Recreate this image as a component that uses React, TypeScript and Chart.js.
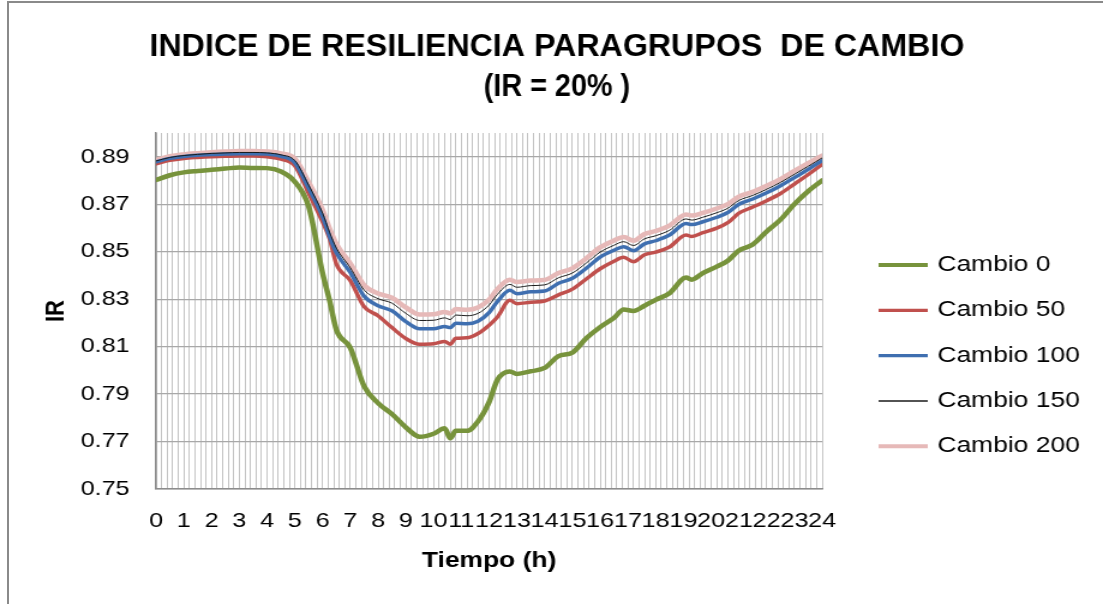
import React, { useEffect, useRef } from 'react';
import { Chart, registerables } from 'chart.js';

Chart.register(...registerables);

// ---------- data ----------
const TIME = [
  0, 0.5, 1, 1.5, 2, 2.5, 3, 3.5, 4, 4.5, 5, 5.5, 6, 6.25, 6.5, 7, 7.5, 8, 8.5, 9, 9.5, 10,
  10.4, 10.6, 10.8, 11.2, 11.6, 12, 12.3, 12.75, 13, 13.5, 14, 14.5, 15, 15.5, 16, 16.5, 16.85,
  17.2, 17.6, 18, 18.5, 19.1, 19.3, 19.7, 20.2, 20.6, 21, 21.5, 22, 22.5, 23, 23.5, 24,
];

const CAMBIO_0 = [
  0.8802, 0.8822, 0.8834, 0.884, 0.8845, 0.885, 0.8855, 0.8853, 0.8852, 0.8838, 0.8795, 0.869,
  0.841, 0.8295, 0.817, 0.8095, 0.7932, 0.7862, 0.7816, 0.776, 0.772, 0.7733, 0.7756, 0.7714,
  0.7745, 0.7745, 0.7785, 0.7866, 0.796, 0.7995, 0.7985, 0.7996, 0.801, 0.806, 0.8075, 0.8135,
  0.8182, 0.8221, 0.8256, 0.825, 0.8272, 0.8297, 0.8325, 0.8391, 0.8382, 0.841, 0.8437, 0.8462,
  0.8505, 0.853, 0.8585, 0.8635, 0.87, 0.8755, 0.88,
];

const CAMBIO_50 = [
  0.887, 0.8885, 0.8893, 0.8897, 0.89, 0.8902, 0.8903, 0.8903, 0.89, 0.889, 0.8862, 0.8746,
  0.8625, 0.8555, 0.8447, 0.8378, 0.8268, 0.823, 0.818, 0.8134, 0.811, 0.8112, 0.8122, 0.811,
  0.8135, 0.8137, 0.8155, 0.819, 0.8225, 0.8295, 0.8281, 0.8287, 0.8292, 0.8318, 0.8342, 0.8385,
  0.8428, 0.846, 0.8476, 0.8458, 0.8487, 0.8498, 0.852, 0.857, 0.8564, 0.858, 0.8599, 0.8622,
  0.8662, 0.8688, 0.8715, 0.8745, 0.8785, 0.8825, 0.8868,
];

const CAMBIO_100 = [
  0.8879, 0.8893, 0.8901, 0.8906, 0.8909, 0.8911, 0.8913, 0.8913, 0.8911, 0.8902, 0.8875, 0.8767,
  0.8647, 0.8565, 0.8495, 0.8412, 0.8312, 0.8272, 0.8251, 0.8205, 0.8175, 0.8175, 0.8185, 0.818,
  0.8198, 0.8196, 0.8207, 0.8243, 0.829, 0.8337, 0.8323, 0.8331, 0.8334, 0.8367, 0.8388, 0.843,
  0.8477, 0.8506, 0.8521, 0.8504, 0.8533, 0.8546, 0.857, 0.8619, 0.8614, 0.8626, 0.8645, 0.8665,
  0.87, 0.8722, 0.8748, 0.8778, 0.8812, 0.8847, 0.8884,
];

const CAMBIO_150 = [
  0.8882, 0.8897, 0.8905, 0.891, 0.8914, 0.8916, 0.8918, 0.8918, 0.8916, 0.8908, 0.8884, 0.878,
  0.8662, 0.8582, 0.8515, 0.8432, 0.8338, 0.8302, 0.8283, 0.824, 0.821, 0.8211, 0.8221, 0.8214,
  0.8233, 0.823, 0.824, 0.8275, 0.832, 0.8362, 0.835, 0.8357, 0.836, 0.839, 0.841, 0.8452,
  0.8498, 0.8527, 0.8542, 0.8526, 0.8554, 0.8567, 0.859, 0.8638, 0.8633, 0.8645, 0.8664, 0.8683,
  0.8716, 0.8737, 0.8763, 0.8792, 0.8826, 0.886, 0.8895,
];

const CAMBIO_200 = [
  0.8886, 0.8902, 0.891, 0.8915, 0.8919, 0.8922, 0.8924, 0.8924, 0.8922, 0.8914, 0.8892, 0.8792,
  0.8676, 0.8598, 0.8532, 0.845, 0.8358, 0.8324, 0.8306, 0.8265, 0.8235, 0.8236, 0.8246, 0.824,
  0.8258, 0.8255, 0.8265, 0.8298, 0.8342, 0.8382, 0.8372, 0.8378, 0.8381, 0.841, 0.843, 0.8472,
  0.8518, 0.8547, 0.8562, 0.8546, 0.8574, 0.8587, 0.861, 0.8657, 0.8652, 0.8663, 0.8682, 0.87,
  0.8732, 0.8752, 0.8778, 0.8806, 0.884, 0.8873, 0.8905,
];

const SERIES_LABELS = ['Cambio 0', 'Cambio 50', 'Cambio 100', 'Cambio 150', 'Cambio 200'];
const HOUR_LABELS = [
  '0', '1', '2', '3', '4', '5', '6', '7', '8', '9', '10', '11', '12',
  '13', '14', '15', '16', '17', '18', '19', '20', '21', '22', '23', '24',
];
const Y_TICKS = [0.75, 0.77, 0.79, 0.81, 0.83, 0.85, 0.87, 0.89];
const TITLE_LINES = ['INDICE DE RESILIENCIA PARAGRUPOS  DE CAMBIO', '(IR = 20% )'];
const X_TITLE = 'Tiempo (h)';
const Y_TITLE = 'IR';

// ---------- layout / style ----------
const INTERNAL_W = 919;
const DISPLAY_W = 1103;
const H = 604;
const MINOR_PER_HOUR = 5;
const FONT = "'Liberation Sans', Arial, sans-serif";

const STYLES = [
  { color: '#77933C', width: 4.5, legendWidth: 4, order: 5 },
  { color: '#C0504D', width: 3.5, legendWidth: 3.3, order: 3 },
  { color: '#3F6FB0', width: 3.5, legendWidth: 3.3, order: 2 },
  { color: '#1a1a1a', width: 1, legendWidth: 1.5, order: 1 },
  { color: '#E6B9B8', width: 4.5, legendWidth: 4, order: 4 },
];

const LEGEND = { lineX0: 732, lineX1: 773, textX: 781, y0: 265, step: 45.3, fontSize: 22 };
const TITLE = { cx: 464, y: [47, 87], maxW: [679, 122], fontSize: 31 };

const titleAndLegend = {
  id: 'titleAndLegend',
  afterDraw(chart: any) {
    const ctx = chart.ctx;
    ctx.save();
    // title
    ctx.fillStyle = '#000';
    ctx.font = `bold ${TITLE.fontSize}px ${FONT}`;
    ctx.textAlign = 'center';
    ctx.textBaseline = 'middle';
    TITLE_LINES.forEach((line, i) => {
      ctx.fillText(line, TITLE.cx, TITLE.y[i], TITLE.maxW[i]);
    });
    // legend
    chart.data.datasets.forEach((ds: any, i: number) => {
      const y = LEGEND.y0 + i * LEGEND.step;
      ctx.strokeStyle = ds.borderColor;
      ctx.lineWidth = ds.legendWidth;
      ctx.lineCap = 'butt';
      ctx.beginPath();
      ctx.moveTo(LEGEND.lineX0, y);
      ctx.lineTo(LEGEND.lineX1, y);
      ctx.stroke();
      ctx.fillStyle = '#000';
      ctx.font = `${LEGEND.fontSize}px ${FONT}`;
      ctx.textAlign = 'left';
      ctx.textBaseline = 'middle';
      ctx.fillText(ds.label, LEGEND.textX, y);
    });
    ctx.restore();
  },
};

export default function App() {
  const ref = useRef<HTMLCanvasElement | null>(null);

  useEffect(() => {
    const canvas = ref.current;
    if (!canvas) return;
    const seriesValues = [CAMBIO_0, CAMBIO_50, CAMBIO_100, CAMBIO_150, CAMBIO_200];
    const datasets = seriesValues.map((vals, s) => ({
      label: SERIES_LABELS[s],
      data: TIME.map((t, i) => ({ x: t, y: vals[i] })),
      borderColor: STYLES[s].color,
      backgroundColor: STYLES[s].color,
      borderWidth: STYLES[s].width,
      legendWidth: STYLES[s].legendWidth,
      order: STYLES[s].order,
      pointRadius: 0,
      fill: false,
      cubicInterpolationMode: 'monotone' as const,
      borderJoinStyle: 'round' as const,
      borderCapStyle: 'round' as const,
    }));

    const chart = new Chart(canvas, {
      type: 'line',
      data: { datasets },
      plugins: [titleAndLegend],
      options: {
        responsive: false,
        maintainAspectRatio: false,
        animation: false,
        devicePixelRatio: 1,
        layout: { padding: { left: 10, right: 0, top: 133, bottom: 15 } },
        plugins: {
          legend: { display: false },
          tooltip: { enabled: false },
          title: { display: false },
        },
        scales: {
          x: {
            type: 'linear',
            min: 0,
            max: 24,
            afterBuildTicks: (scale: any) => {
              const ticks = [];
              for (let i = 0; i <= 24 * MINOR_PER_HOUR; i++) ticks.push({ value: i / MINOR_PER_HOUR });
              scale.ticks = ticks;
            },
            afterFit: (scale: any) => {
              scale.height = 100;
            },
            ticks: {
              autoSkip: false,
              maxRotation: 0,
              minRotation: 0,
              padding: 20,
              color: '#000',
              font: { family: FONT, size: 21 },
              callback: (value: any) => {
                const v = Number(value);
                const r = Math.round(v);
                return Math.abs(v - r) < 1e-6 ? HOUR_LABELS[r] : '';
              },
            },
            grid: { color: '#c4c4c4', lineWidth: 1, drawTicks: false },
            border: { display: true, color: '#8c8c8c', width: 1.5 },
            title: {
              display: true,
              text: X_TITLE,
              color: '#000',
              font: { family: FONT, size: 22, weight: 'bold' },
              padding: { top: 0, bottom: 15 },
            },
          },
          y: {
            type: 'linear',
            position: 'left',
            min: 0.75,
            max: 0.9,
            afterBuildTicks: (scale: any) => {
              scale.ticks = Y_TICKS.map((v) => ({ value: v }));
            },
            afterFit: (scale: any) => {
              scale.width = 120;
            },
            ticks: {
              padding: 22,
              color: '#000',
              font: { family: FONT, size: 21 },
              callback: (value: any) => Number(value).toFixed(2),
            },
            grid: { color: '#a8a8a8', lineWidth: 1.2, drawTicks: false },
            border: { display: true, color: '#8c8c8c', width: 1.5 },
            title: {
              display: true,
              text: Y_TITLE,
              color: '#000',
              font: { family: FONT, size: 22, weight: 'bold' },
              padding: { top: 24, bottom: 0 },
            },
          },
          yRight: {
            type: 'linear',
            position: 'right',
            display: true,
            grid: { display: false, drawOnChartArea: false },
            border: { display: false },
            ticks: { display: false },
            afterFit: (scale: any) => {
              scale.width = 234;
            },
          },
        },
      } as any,
    });
    return () => chart.destroy();
  }, []);

  return (
    <div>
      <canvas
        ref={ref}
        width={INTERNAL_W}
        height={H}
        style={{ position: 'fixed', left: 0, top: 0, width: DISPLAY_W, height: H, display: 'block' }}
      />
      <div
        style={{
          position: 'fixed',
          left: 7,
          top: 1,
          width: 1200,
          height: 700,
          borderLeft: '2px solid #8a8a8a',
          borderTop: '2px solid #8a8a8a',
          pointerEvents: 'none',
        }}
      />
    </div>
  );
}
